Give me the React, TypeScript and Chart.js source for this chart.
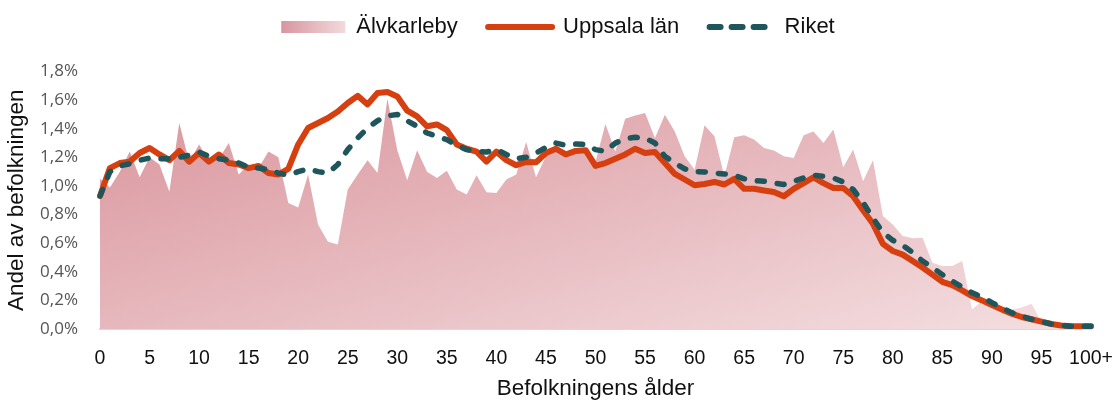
import React, { useEffect, useRef } from "react";
import { Chart, registerables } from "chart.js";

Chart.register(...registerables);

const ages: string[] = [
  "0","1","2","3","4","5","6","7","8","9",
  "10","11","12","13","14","15","16","17","18","19",
  "20","21","22","23","24","25","26","27","28","29",
  "30","31","32","33","34","35","36","37","38","39",
  "40","41","42","43","44","45","46","47","48","49",
  "50","51","52","53","54","55","56","57","58","59",
  "60","61","62","63","64","65","66","67","68","69",
  "70","71","72","73","74","75","76","77","78","79",
  "80","81","82","83","84","85","86","87","88","89",
  "90","91","92","93","94","95","96","97","98","99",
  "100+",
];

const alvkarleby: number[] = [
  1.05, 0.99, 1.1, 1.24, 1.06, 1.2, 1.15, 0.96, 1.44, 1.17,
  1.29, 1.17, 1.19, 1.3, 1.08, 1.15, 1.125, 1.24, 1.2, 0.88,
  0.85, 1.08, 0.73, 0.61, 0.59, 0.975, 1.08, 1.18, 1.09, 1.61,
  1.25, 1.04, 1.25, 1.1, 1.056, 1.107, 0.975, 0.94, 1.075, 0.956,
  0.951, 1.045, 1.08, 1.307, 1.06, 1.207, 1.254, 1.215, 1.254, 1.26,
  1.17, 1.433, 1.24, 1.47, 1.493, 1.51, 1.335, 1.498, 1.38, 1.207,
  1.114, 1.424, 1.347, 1.068, 1.34, 1.354, 1.324, 1.265, 1.247, 1.207,
  1.195, 1.354, 1.38, 1.3, 1.394, 1.13, 1.254, 1.033, 1.18, 0.79,
  0.73, 0.65, 0.635, 0.637, 0.463, 0.44, 0.44, 0.475, 0.137, 0.195,
  0.17, 0.15, 0.137, 0.15, 0.177, 0.05, 0.03, 0.01, 0.01, 0.005,
  0.005,
];

const uppsala: number[] = [
  0.93, 1.125, 1.16, 1.17, 1.23, 1.265, 1.22, 1.18, 1.245, 1.17,
  1.23, 1.17, 1.22, 1.16, 1.15, 1.125, 1.14, 1.09, 1.08, 1.12,
  1.29, 1.405, 1.44, 1.475, 1.52, 1.58, 1.63, 1.57, 1.65, 1.656,
  1.626, 1.526, 1.486, 1.417, 1.43, 1.39, 1.29, 1.26, 1.24, 1.17,
  1.24, 1.18, 1.145, 1.168, 1.165, 1.23, 1.26, 1.22, 1.245, 1.25,
  1.14, 1.16, 1.19, 1.22, 1.26, 1.23, 1.237, 1.16, 1.084, 1.045,
  1.005, 1.014, 1.028, 1.01, 1.05, 0.98, 0.98, 0.968, 0.958, 0.928,
  0.98, 1.02, 1.06, 1.02, 0.986, 0.986, 0.928, 0.83, 0.735, 0.595,
  0.545, 0.52, 0.475, 0.43, 0.38, 0.33, 0.307, 0.27, 0.23, 0.2,
  0.167, 0.137, 0.107, 0.084, 0.068, 0.051, 0.035, 0.025, 0.02, 0.02,
  0.02,
];

const riket: number[] = [
  0.93, 1.1, 1.14, 1.155, 1.18, 1.195, 1.19, 1.19, 1.2, 1.215,
  1.237, 1.207, 1.19, 1.18, 1.16, 1.13, 1.125, 1.115, 1.09, 1.075,
  1.1, 1.12, 1.1, 1.09, 1.15, 1.254, 1.335, 1.405, 1.456, 1.49,
  1.5, 1.456, 1.417, 1.37, 1.347, 1.324, 1.284, 1.254, 1.242, 1.237,
  1.254, 1.22, 1.19, 1.2, 1.23, 1.27, 1.3, 1.284, 1.293, 1.29,
  1.254, 1.242, 1.3, 1.33, 1.34, 1.335, 1.3, 1.207, 1.16, 1.12,
  1.1, 1.098, 1.09, 1.084, 1.075, 1.05, 1.037, 1.033, 1.02, 1.01,
  1.033, 1.056, 1.075, 1.068, 1.056, 1.028, 0.975, 0.885, 0.775, 0.675,
  0.62, 0.585, 0.535, 0.475, 0.43, 0.38, 0.335, 0.293, 0.253, 0.223,
  0.184, 0.149, 0.114, 0.09, 0.068, 0.051, 0.035, 0.025, 0.02, 0.02,
  0.02,
];

const seriesNames: string[] = ["Älvkarleby", "Uppsala län", "Riket"];

const RED = "rgb(214,64,16)";
const TEAL = "rgb(30,86,92)";

export default function App() {
  const canvasRef = useRef<HTMLCanvasElement | null>(null);

  useEffect(() => {
    document.body.style.margin = "0";
    const canvas = canvasRef.current;
    if (!canvas) return;

    const areaFill = (c: any) => {
      const chart = c.chart;
      const a = chart.chartArea;
      if (!a) return "rgb(228,180,186)";
      const W = a.right - a.left;
      const H = a.bottom - a.top;
      const s = 2 / (H / W + W / H);
      const g = chart.ctx.createLinearGradient(a.left, a.top, a.left + H * s, a.top + W * s);
      g.addColorStop(0, "rgb(216,145,153)");
      g.addColorStop(1, "rgb(244,223,225)");
      return g;
    };

    const legendTweak = {
      id: "legendTweak",
      beforeInit(chart: any) {
        const orig = chart.legend.fit;
        chart.legend.fit = function () {
          orig.bind(chart.legend)();
          this.height = 67.5;
        };
      },
    };

    const chart = new Chart(canvas, {
      type: "line",
      data: {
        labels: ages,
        datasets: [
          {
            label: seriesNames[0],
            data: alvkarleby,
            fill: "origin",
            backgroundColor: areaFill,
            borderWidth: 0,
            borderColor: "rgba(0,0,0,0)",
            pointRadius: 0,
            tension: 0,
            order: 3,
          },
          {
            label: seriesNames[1],
            data: uppsala,
            fill: false,
            borderColor: RED,
            backgroundColor: RED,
            borderWidth: 6,
            borderCapStyle: "round",
            borderJoinStyle: "round",
            pointRadius: 0,
            tension: 0,
            order: 2,
          },
          {
            label: seriesNames[2],
            data: riket,
            fill: false,
            borderColor: TEAL,
            backgroundColor: TEAL,
            borderWidth: 5.5,
            borderDash: [7, 13],
            borderCapStyle: "round",
            borderJoinStyle: "round",
            pointRadius: 0,
            tension: 0,
            order: 1,
          },
        ],
      },
      options: {
        responsive: false,
        animation: false,
        layout: { padding: { top: 4, right: 0, left: 0, bottom: 0 } },
        plugins: {
          tooltip: { enabled: false },
          legend: {
            display: true,
            position: "top",
            labels: {
              usePointStyle: true,
              pointStyleWidth: 64,
              boxHeight: 12,
              padding: 12,
              color: "#111",
              font: { family: "'Liberation Sans', Arial, sans-serif", size: 22 },
              generateLabels: (chart: any) => {
                const ctx = chart.ctx;
                const lg = ctx.createLinearGradient(280, 0, 344, 0);
                lg.addColorStop(0, "rgb(216,148,158)");
                lg.addColorStop(1, "rgb(242,216,219)");
                return [
                  {
                    text: seriesNames[0] + "   ",
                    fillStyle: lg,
                    strokeStyle: "rgba(0,0,0,0)",
                    lineWidth: 0,
                    pointStyle: "rect",
                    hidden: false,
                    datasetIndex: 0,
                    fontColor: "#111",
                  },
                  {
                    text: seriesNames[1] + "   ",
                    fillStyle: RED,
                    strokeStyle: RED,
                    lineWidth: 6,
                    lineCap: "round",
                    pointStyle: "line",
                    hidden: false,
                    datasetIndex: 1,
                    fontColor: "#111",
                  },
                  {
                    text: seriesNames[2],
                    fillStyle: TEAL,
                    strokeStyle: TEAL,
                    lineWidth: 6,
                    lineCap: "round",
                    lineDash: [11, 11],
                    pointStyle: "line",
                    hidden: false,
                    datasetIndex: 2,
                    fontColor: "#111",
                  },
                ];
              },
            },
          },
        },
        scales: {
          x: {
            type: "category",
            offset: false,
            grid: { display: false },
            border: { display: true, color: "#d9d9d9", width: 2 },
            ticks: {
              autoSkip: false,
              maxRotation: 0,
              minRotation: 0,
              padding: 10,
              color: "#111",
              font: { family: "'Liberation Sans', Arial, sans-serif", size: 19.5 },
              callback: (_v: any, i: number) => (i % 5 === 0 ? ages[i] : null),
            },
            title: {
              display: true,
              text: "Befolkningens ålder",
              color: "#111",
              font: { family: "'Liberation Sans', Arial, sans-serif", size: 22.5 },
              padding: { top: 0, bottom: 0 },
            },
            afterFit: (scale: any) => {
              scale.height = 73;
              scale.paddingRight = 25;
              scale.paddingLeft = 0;
            },
          },
          y: {
            min: 0,
            max: 1.8,
            grid: { display: false },
            border: { display: false },
            ticks: {
              stepSize: 0.2,
              padding: 14,
              color: "#555",
              font: { family: "'Open Sans', sans-serif", size: 17 },
              callback: (v: any) => Number(v).toFixed(1).replace(".", ",") + "%",
            },
            title: {
              display: true,
              text: "Andel av befolkningen",
              color: "#111",
              font: { family: "'Liberation Sans', Arial, sans-serif", size: 22.5 },
              padding: { top: 3, bottom: 0 },
            },
            afterFit: (scale: any) => {
              scale.width = 100;
            },
          },
        },
      },
      plugins: [legendTweak],
    } as any);

    return () => {
      chart.destroy();
    };
  }, []);

  return (
    <div style={{ width: 1116, height: 402 }}>
      <canvas ref={canvasRef} width={1116} height={402} style={{ display: "block" }} />
    </div>
  );
}
